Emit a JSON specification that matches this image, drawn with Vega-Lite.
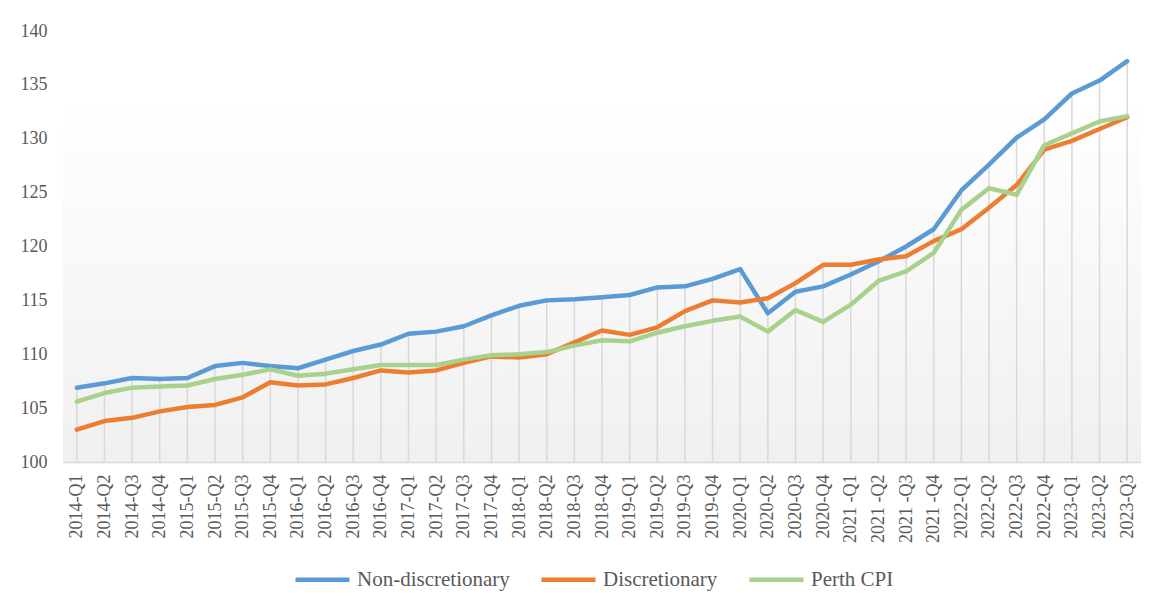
{
  "$schema": "https://vega.github.io/schema/vega-lite/v6.json",
  "width": 1078,
  "height": 431,
  "autosize": {"type": "none"},
  "padding": {"left": 63, "top": 31, "right": 28, "bottom": 151},
  "background": "#ffffff",
  "config": {
    "font": "Liberation Serif",
    "view": {
      "stroke": null,
      "fill": {
        "gradient": "linear",
        "x1": 0, "y1": 0, "x2": 0, "y2": 1,
        "stops": [
          {"offset": 0, "color": "#ffffff"},
          {"offset": 0.15, "color": "#ffffff"},
          {"offset": 1, "color": "#f0f0f0"}
        ]
      }
    }
  },
  "data": {
    "values": [
      {"q": "2014-Q1", "Non-discretionary": 106.9, "Discretionary": 103.0, "Perth CPI": 105.6},
      {"q": "2014-Q2", "Non-discretionary": 107.3, "Discretionary": 103.8, "Perth CPI": 106.4},
      {"q": "2014-Q3", "Non-discretionary": 107.8, "Discretionary": 104.1, "Perth CPI": 106.9},
      {"q": "2014-Q4", "Non-discretionary": 107.7, "Discretionary": 104.7, "Perth CPI": 107.0},
      {"q": "2015-Q1", "Non-discretionary": 107.8, "Discretionary": 105.1, "Perth CPI": 107.1},
      {"q": "2015-Q2", "Non-discretionary": 108.9, "Discretionary": 105.3, "Perth CPI": 107.7},
      {"q": "2015-Q3", "Non-discretionary": 109.2, "Discretionary": 106.0, "Perth CPI": 108.1},
      {"q": "2015-Q4", "Non-discretionary": 108.9, "Discretionary": 107.4, "Perth CPI": 108.6},
      {"q": "2016-Q1", "Non-discretionary": 108.7, "Discretionary": 107.1, "Perth CPI": 108.0},
      {"q": "2016-Q2", "Non-discretionary": 109.5, "Discretionary": 107.2, "Perth CPI": 108.2},
      {"q": "2016-Q3", "Non-discretionary": 110.3, "Discretionary": 107.8, "Perth CPI": 108.6},
      {"q": "2016-Q4", "Non-discretionary": 110.9, "Discretionary": 108.5, "Perth CPI": 109.0},
      {"q": "2017-Q1", "Non-discretionary": 111.9, "Discretionary": 108.3, "Perth CPI": 109.0},
      {"q": "2017-Q2", "Non-discretionary": 112.1, "Discretionary": 108.5, "Perth CPI": 109.0},
      {"q": "2017-Q3", "Non-discretionary": 112.6, "Discretionary": 109.2, "Perth CPI": 109.5},
      {"q": "2017-Q4", "Non-discretionary": 113.6, "Discretionary": 109.8, "Perth CPI": 109.9},
      {"q": "2018-Q1", "Non-discretionary": 114.5, "Discretionary": 109.7, "Perth CPI": 110.0},
      {"q": "2018-Q2", "Non-discretionary": 115.0, "Discretionary": 110.0, "Perth CPI": 110.2},
      {"q": "2018-Q3", "Non-discretionary": 115.1, "Discretionary": 111.1, "Perth CPI": 110.8},
      {"q": "2018-Q4", "Non-discretionary": 115.3, "Discretionary": 112.2, "Perth CPI": 111.3},
      {"q": "2019-Q1", "Non-discretionary": 115.5, "Discretionary": 111.8, "Perth CPI": 111.2},
      {"q": "2019-Q2", "Non-discretionary": 116.2, "Discretionary": 112.5, "Perth CPI": 112.0},
      {"q": "2019-Q3", "Non-discretionary": 116.3, "Discretionary": 114.0, "Perth CPI": 112.6},
      {"q": "2019-Q4", "Non-discretionary": 117.0, "Discretionary": 115.0, "Perth CPI": 113.1},
      {"q": "2020-Q1", "Non-discretionary": 117.9, "Discretionary": 114.8, "Perth CPI": 113.5},
      {"q": "2020-Q2", "Non-discretionary": 113.8, "Discretionary": 115.2, "Perth CPI": 112.1},
      {"q": "2020-Q3", "Non-discretionary": 115.8, "Discretionary": 116.6, "Perth CPI": 114.1},
      {"q": "2020-Q4", "Non-discretionary": 116.3, "Discretionary": 118.3, "Perth CPI": 113.0},
      {"q": "2021 -Q1", "Non-discretionary": 117.4, "Discretionary": 118.3, "Perth CPI": 114.6},
      {"q": "2021 -Q2", "Non-discretionary": 118.6, "Discretionary": 118.8, "Perth CPI": 116.8},
      {"q": "2021 -Q3", "Non-discretionary": 120.0, "Discretionary": 119.1, "Perth CPI": 117.7},
      {"q": "2021 -Q4", "Non-discretionary": 121.6, "Discretionary": 120.5, "Perth CPI": 119.4},
      {"q": "2022-Q1", "Non-discretionary": 125.2, "Discretionary": 121.6, "Perth CPI": 123.4},
      {"q": "2022-Q2", "Non-discretionary": 127.6, "Discretionary": 123.6, "Perth CPI": 125.4},
      {"q": "2022-Q3", "Non-discretionary": 130.1, "Discretionary": 125.7, "Perth CPI": 124.8},
      {"q": "2022-Q4", "Non-discretionary": 131.8, "Discretionary": 129.0, "Perth CPI": 129.4},
      {"q": "2023-Q1", "Non-discretionary": 134.2, "Discretionary": 129.8, "Perth CPI": 130.5},
      {"q": "2023-Q2", "Non-discretionary": 135.4, "Discretionary": 130.9, "Perth CPI": 131.6},
      {"q": "2023-Q3", "Non-discretionary": 137.2, "Discretionary": 132.0, "Perth CPI": 132.1}
    ]
  },
  "transform": [
    {"fold": ["Non-discretionary", "Discretionary", "Perth CPI"], "as": ["series", "value"]}
  ],
  "encoding": {
    "x": {
      "field": "q",
      "type": "ordinal",
      "sort": null,
      "scale": {"type": "point", "padding": 0.5},
      "axis": {
        "title": null,
        "labelAngle": 270,
        "labelAlign": "right",
        "labelBaseline": "middle",
        "labelFont": "Liberation Serif",
        "labelFontSize": 18,
        "labelColor": "#595959",
        "labelPadding": 12,
        "ticks": false,
        "domainColor": "#d9d9d9",
        "domainWidth": 1.5,
        "grid": false
      }
    }
  },
  "layer": [
    {
      "transform": [
        {"aggregate": [{"op": "max", "field": "value", "as": "top"}], "groupby": ["q"]}
      ],
      "mark": {"type": "rule", "color": "#d9d9d9", "strokeWidth": 1.5},
      "encoding": {
        "y": {"field": "top", "type": "quantitative", "scale": {"domain": [100, 140], "nice": false, "zero": false}},
        "y2": {"datum": 100}
      }
    },
    {
      "mark": {"type": "line", "strokeWidth": 4.5, "strokeCap": "round", "strokeJoin": "round"},
      "encoding": {
        "y": {
          "field": "value",
          "type": "quantitative",
          "scale": {"domain": [100, 140], "nice": false, "zero": false},
          "axis": {
            "title": null,
            "values": [100, 105, 110, 115, 120, 125, 130, 135, 140],
            "domain": false,
            "ticks": false,
            "grid": false,
            "labelFont": "Liberation Serif",
            "labelFontSize": 18,
            "labelColor": "#595959",
            "labelPadding": 16
          }
        },
        "color": {
          "field": "series",
          "type": "nominal",
          "sort": ["Non-discretionary", "Discretionary", "Perth CPI"],
          "scale": {
            "domain": ["Non-discretionary", "Discretionary", "Perth CPI"],
            "range": ["#5B9BD5", "#ED7D31", "#A9D18E"]
          },
          "legend": {
            "title": null,
            "orient": "none",
            "legendX": 230,
            "legendY": 519,
            "direction": "horizontal",
            "symbolType": "stroke",
            "symbolSize": 2916,
            "symbolStrokeWidth": 4.5,
            "labelFont": "Liberation Serif",
            "labelFontSize": 21,
            "labelColor": "#595959",
            "labelOffset": 5,
            "columnPadding": 22,
            "labelLimit": 300
          }
        }
      }
    }
  ]
}
